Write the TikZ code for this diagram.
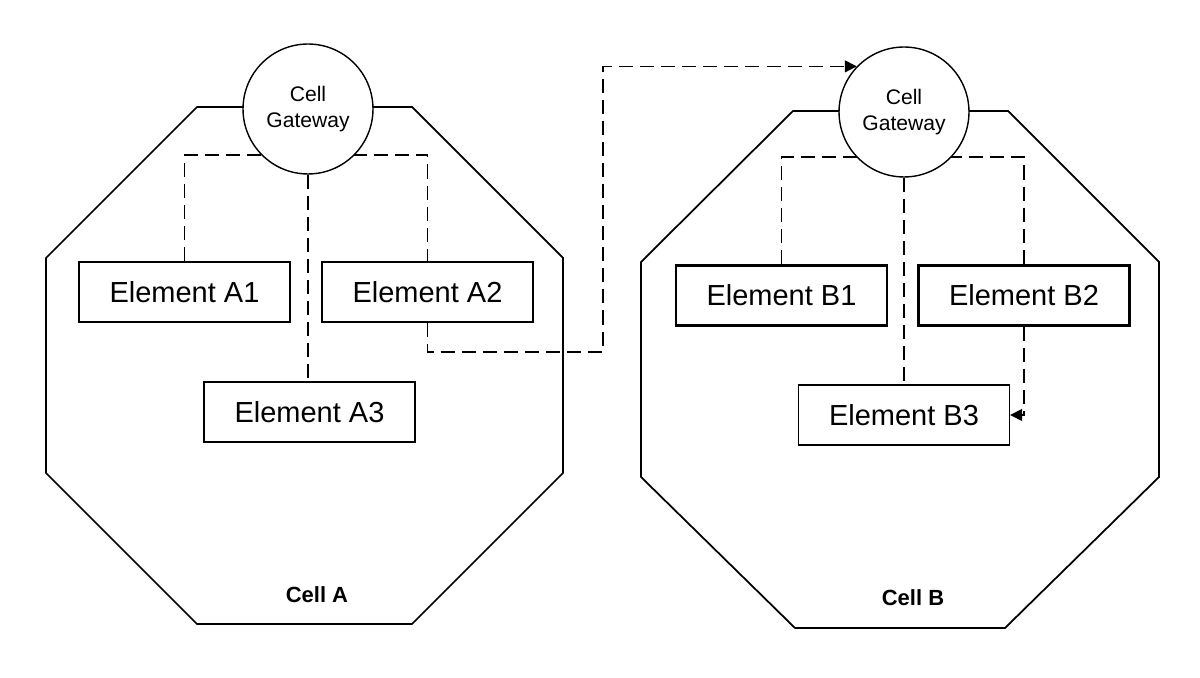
\documentclass[tikz,border=0pt]{standalone}
\usepackage{fontspec}
\setmainfont{Liberation Sans}
\usetikzlibrary{arrows.meta}
\tikzset{
    cellwall/.style={line width=1pt},
    gateway/.style={circle, draw, line width=0.8pt, fill=white, minimum size=2.6cm, inner sep=0pt, align=center, font=\fontsize{12}{14.5}\selectfont},
    element/.style={rectangle, draw, fill=white, line width=0.8pt, minimum width=4.22cm, minimum height=1.2cm, inner sep=0pt, font=\fontsize{16.5}{19}\selectfont},
    mainelem/.style={element, line width=1.2pt},
    link/.style={dash pattern=on 8pt off 4pt, line width=0.8pt},
    trunk/.style={link, line width=1.4pt},
    msgarrow/.style={link, -{Triangle[length=2.4mm,width=2.4mm]}},
    celllabel/.style={font=\bfseries\fontsize{12.5}{15}\selectfont}
}

\begin{document}
\begin{tikzpicture}[x=0.02cm, y=-0.02cm]
    \useasboundingbox (0,0) rectangle (1200,678);
    % cell walls
    \draw[cellwall] (197,107) -- (412,107) -- (563,258) -- (563,473) -- (412,624) -- (197,624) -- (46,473) -- (46,258) -- cycle;
    \draw[cellwall] (793,111) -- (1008,111) -- (1159,262) -- (1159,477) -- (1005,628) -- (795,628) -- (641,477) -- (641,262) -- cycle;
    \node[celllabel] (labelA) at (317,595) {Cell A};
    \node[celllabel] (labelB) at (913,598) {Cell B};

    % cell A
    \coordinate (hubA) at (308,155);
    \coordinate (bendA) at (603,352);
    \node[mainelem] (A1) at (184.5,292) {Element A1};
    \node[mainelem] (A2) at (427.5,292) {Element A2};
    \node[element] (A3) at (309.5,412) {Element A3};
    \draw[link] (A1.north) |- (hubA) -| (A2.north);
    \node[gateway] (GwA) at (308,109) {Cell\\Gateway};
    \draw[trunk] (GwA.south) -- (GwA.south |- A3.north);

    % cell B
    \coordinate (hubB) at (904,157);
    \node[mainelem] (B1) at (781.5,295.5) {Element B1};
    \node[mainelem] (B2) at (1024,295.5) {Element B2};
    \node[element] (B3) at (904,415) {Element B3};
    \draw[link] (B1.north) |- (hubB) -| (B2.north);
    \node[gateway] (GwB) at (904,112) {Cell\\Gateway};
    \draw[trunk] (GwB.south) -- (B3.north);

    % messages
    \draw[msgarrow] (A2.south) |- (bendA) |- (GwB.136);
    \draw[msgarrow] (B2.south) |- (B3.east);
\end{tikzpicture}
\end{document}
